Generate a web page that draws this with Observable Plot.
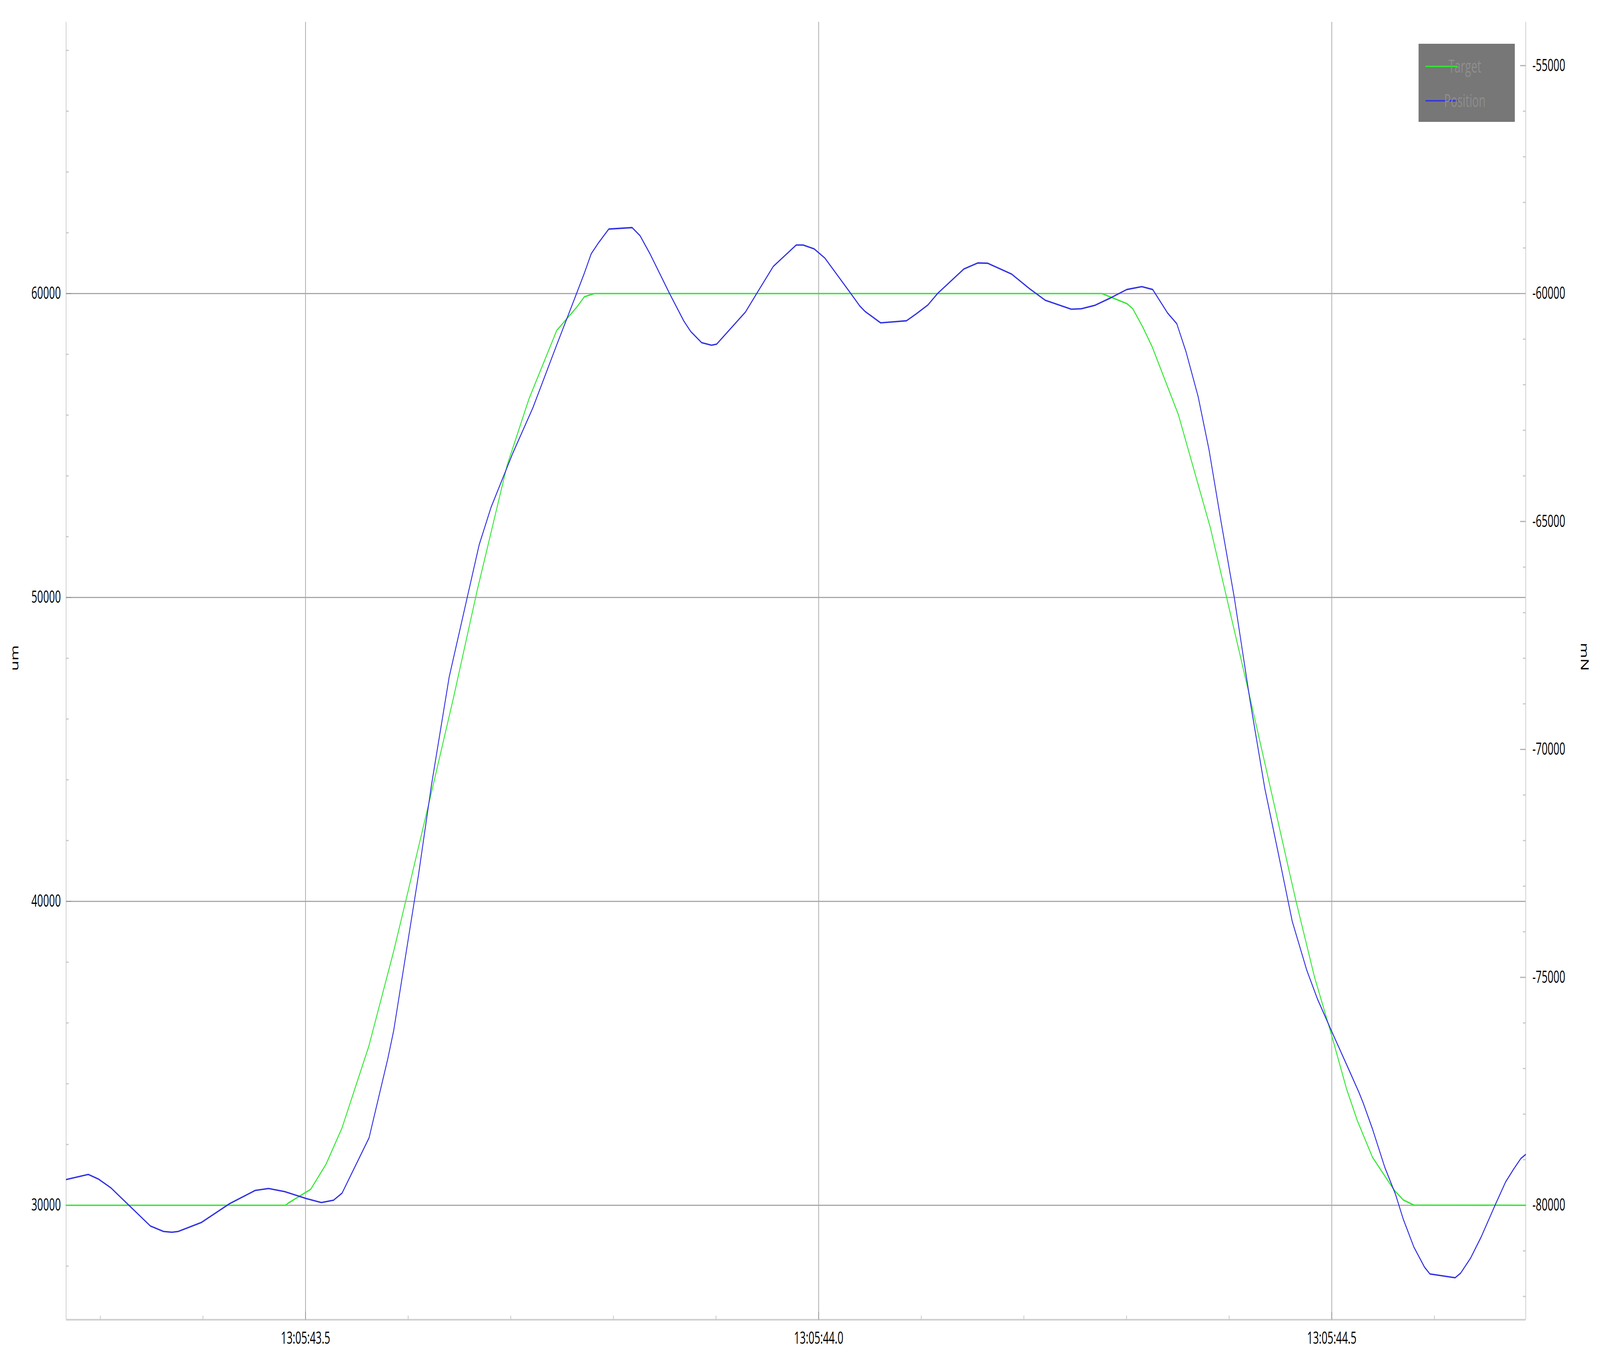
<!DOCTYPE html>
<html>
<head>
<meta charset="utf-8">
<script src="https://cdn.jsdelivr.net/npm/d3@7"></script>
<script src="https://cdn.jsdelivr.net/npm/@observablehq/plot@0.6"></script>
<style>
  html, body { margin: 0; padding: 0; background: #ffffff; overflow: hidden; }
  #wrap { position: relative; overflow: hidden; }
</style>
</head>
<body>
<div id="wrap"></div>
<script>
// ---- data (time in seconds after 13:05:00, values in um) ----
const targetT = [43.2667, 43.4804, 43.4831, 43.5050, 43.5200, 43.5355, 43.5616, 43.5859, 43.5994, 43.6227,
  43.6440, 43.6673, 43.6964, 43.7177, 43.7448, 43.7640, 43.7717, 43.7813, 44.2761, 44.3003,
  44.3061, 44.3158, 44.3251, 44.3505, 44.3818, 44.3974, 44.4205, 44.4370, 44.4593, 44.4653,
  44.4831, 44.4995, 44.5144, 44.5248, 44.5397, 44.5606, 44.5696, 44.5800, 44.6890];
const targetUm = [30000, 30000, 30070, 30525, 31354, 32542, 35226, 38361, 40261, 43587,
  46675, 50238, 54347, 56532, 58789, 59540, 59894, 60000, 60000, 59670,
  59499, 58899, 58240, 56018, 52281, 50020, 46677, 44218, 40875, 39990,
  37520, 35638, 33830, 32797, 31579, 30509, 30177, 30007, 30000];

const positionT = [43.2669, 43.2883, 43.2983, 43.3102, 43.3488, 43.3616, 43.3698, 43.3759, 43.3985, 43.4259,
  43.4509, 43.4640, 43.4797, 43.5010, 43.5154, 43.5273, 43.5356, 43.5619, 43.5800, 43.5859,
  43.6100, 43.6227, 43.6400, 43.6692, 43.6808, 43.7020, 43.7216, 43.7448, 43.7639, 43.7717,
  43.7784, 43.7852, 43.7955, 43.8182, 43.8260, 43.8356, 43.8550, 43.8686, 43.8753, 43.8860,
  43.8957, 43.9006, 43.9287, 43.9393, 43.9558, 43.9781, 43.9849, 43.9955, 44.0062, 44.0314,
  44.0401, 44.0450, 44.0604, 44.0856, 44.0949, 44.1065, 44.1162, 44.1414, 44.1550, 44.1646,
  44.1879, 44.2054, 44.2209, 44.2461, 44.2558, 44.2693, 44.2848, 44.3003, 44.3149, 44.3255,
  44.3400, 44.3490, 44.3580, 44.3698, 44.3803, 44.3922, 44.4049, 44.4205, 44.4347, 44.4474,
  44.4615, 44.4757, 44.4861, 44.4995, 44.5159, 44.5263, 44.5308, 44.5397, 44.5517, 44.5621,
  44.5696, 44.5800, 44.5904, 44.5956, 44.6202, 44.6255, 44.6352, 44.6456, 44.6590, 44.6694,
  44.6769, 44.6843, 44.6888];
const positionUm = [30848, 31015, 30861, 30578, 29319, 29139, 29113, 29139, 29434, 30051,
  30488, 30553, 30450, 30219, 30090, 30167, 30400, 32220, 34798, 35748,
  40855, 43824, 47387, 51734, 52969, 54751, 56247, 58314, 59983, 60672,
  61311, 61655, 62122, 62171, 61902, 61311, 59983, 59097, 58753, 58384,
  58300, 58335, 59393, 59983, 60893, 61596, 61596, 61473, 61163, 59998,
  59590, 59417, 59036, 59105, 59327, 59627, 60013, 60805, 61007, 60998,
  60643, 60163, 59777, 59486, 59499, 59614, 59863, 60133, 60227, 60133,
  59361, 59007, 58083, 56608, 54877, 52478, 50020, 46578, 43727, 41662,
  39341, 37729, 36785, 35755, 34520, 33730, 33351, 32510, 31247, 30362,
  29550, 28627, 27963, 27742, 27616, 27764, 28258, 28959, 29993, 30768,
  31173, 31542, 31668];

const seriesNames = ["Target", "Position"];
const seriesColors = ["#30e830", "#3030e4"];

const xDomain = [43.2667, 44.689];
const yDomain = [26234, 68933];

const xMajorTicks = [43.5, 44.0, 44.5];
const xMinorTicks = [43.3, 43.4, 43.6, 43.7, 43.8, 43.9, 44.1, 44.2, 44.3, 44.4, 44.6];
const leftMajorTicks = [30000, 40000, 50000, 60000];
const leftMinorTicks = [28000, 32000, 34000, 36000, 38000, 42000, 44000, 46000, 48000,
  52000, 54000, 56000, 58000, 62000, 64000, 66000, 68000];
const rightMajorTicksMN = [-55000, -60000, -65000, -70000, -75000, -80000];
const rightMinorTicksMN = [-56000, -57000, -58000, -59000, -61000, -62000, -63000, -64000,
  -66000, -67000, -68000, -69000, -71000, -72000, -73000, -74000, -76000, -77000, -78000,
  -79000, -81000, -82000];

// right axis (mN) is a linear relabelling of the left axis (um)
const mNtoUm = mN => 30000 + (mN + 80000) * 1.5;
const umToMN = um => Math.round((um - 30000) / 1.5 - 80000);

// ---- layout in the reference's 6667 x 3479 frame; the SVG is then fitted to the window ----
const W = 6667, H = 3479;
const mL = 275, mR = 310, mT = 56, mB = 101;
const plotW = W - mL - mR, plotH = H - mT - mB;
const gridColor = "#a9a9a9", axisColor = "#cdcdcd", minorColor = "#c6c6c6";
const fontSize = 43;
const font = "'Open Sans', 'Noto Sans', sans-serif";

const targetData = targetT.map((t, i) => ({t, um: targetUm[i]}));
const positionData = positionT.map((t, i) => ({t, um: positionUm[i]}));
const fmtTime = d => "13:05:" + d.toFixed(1);

const chart = Plot.plot({
  width: W,
  height: H,
  marginLeft: mL,
  marginRight: mR,
  marginTop: mT,
  marginBottom: mB,
  style: {fontFamily: font, fontSize: fontSize + "px", color: "#000", background: "#fff"},
  x: {domain: xDomain, axis: null},
  y: {domain: yDomain, axis: null},
  marks: [
    // grid
    Plot.ruleY(leftMajorTicks, {y: d => d, stroke: gridColor, strokeWidth: 3}),
    Plot.ruleX(xMajorTicks, {x: d => d, stroke: gridColor, strokeWidth: 3}),
    // axis lines
    Plot.ruleX([xDomain[0], xDomain[1]], {x: d => d, stroke: axisColor, strokeWidth: 3}),
    Plot.ruleY([yDomain[0]], {y: d => d, stroke: axisColor, strokeWidth: 4}),
    // left ticks (inward)
    Plot.tickY(leftMinorTicks, {y: d => d, insetRight: plotW - 11, stroke: minorColor, strokeWidth: 3}),
    Plot.tickY(leftMajorTicks, {y: d => d, insetRight: plotW - 22, stroke: "#9a9a9a", strokeWidth: 3}),
    // right ticks (inward)
    Plot.tickY(rightMinorTicksMN.map(mNtoUm), {y: d => d, insetLeft: plotW - 11, stroke: minorColor, strokeWidth: 3}),
    Plot.tickY(rightMajorTicksMN.map(mNtoUm), {y: d => d, insetLeft: plotW - 23, stroke: "#b0b0b0", strokeWidth: 3}),
    // bottom ticks (inward)
    Plot.tickX(xMinorTicks, {x: d => d, insetTop: plotH - 10, stroke: minorColor, strokeWidth: 3}),
    Plot.tickX(xMajorTicks, {x: d => d, insetTop: plotH - 20, stroke: "#999", strokeWidth: 3}),
    // series
    Plot.line(targetData, {x: "t", y: "um", stroke: seriesColors[0], strokeWidth: 3.6}),
    Plot.line(positionData, {x: "t", y: "um", stroke: seriesColors[1], strokeWidth: 3.6}),
    // axes
    Plot.axisY(leftMajorTicks, {anchor: "left", tickSize: 0, tickPadding: 22, tickFormat: d => String(d), label: null, fontSize}),
    Plot.axisY(rightMajorTicksMN.map(mNtoUm), {anchor: "right", tickSize: 0, tickPadding: 28, tickFormat: d => String(umToMN(d)), label: null, fontSize}),
    Plot.axisX(xMajorTicks, {anchor: "bottom", tickSize: 0, tickPadding: 31, tickFormat: fmtTime, label: null, fontSize}),
    // axis titles
    Plot.text(["um"], {text: d => d, frameAnchor: "left", dx: -213, rotate: -90, fontSize, fill: "#000"}),
    Plot.text(["mN"], {text: d => d, frameAnchor: "right", dx: 244, rotate: 90, fontSize, fill: "#000"})
  ]
});

// ---- legend (inside plot area, top right), drawn in the same frame ----
const svg = d3.select(chart);
const lg = svg.append("g").attr("class", "legend").attr("transform", "translate(5911,112)");
lg.append("rect").attr("width", 401).attr("height", 200).attr("fill", "#777777");
seriesNames.forEach((name, i) => {
  const cy = 58 + i * 88;
  lg.append("line").attr("x1", 29).attr("x2", 163).attr("y1", cy).attr("y2", cy)
    .attr("stroke", seriesColors[i]).attr("stroke-width", 3.6);
  lg.append("text").attr("x", 193).attr("y", cy + 16)
    .attr("font-family", font).attr("font-size", 46)
    .attr("fill", "#8e8e8e").text(name);
});

// fit the 6667 x 3479 drawing to the actual window
const vw = window.innerWidth || document.documentElement.clientWidth || W;
const vh = window.innerHeight || document.documentElement.clientHeight || H;
const wrap = document.getElementById("wrap");
wrap.style.width = vw + "px";
wrap.style.height = vh + "px";
chart.setAttribute("viewBox", `0 0 ${W} ${H}`);
chart.setAttribute("preserveAspectRatio", "none");
chart.setAttribute("width", vw);
chart.setAttribute("height", vh);
chart.style.width = vw + "px";
chart.style.height = vh + "px";
chart.style.maxWidth = "none";
wrap.appendChild(chart);
</script>
</body>
</html>
